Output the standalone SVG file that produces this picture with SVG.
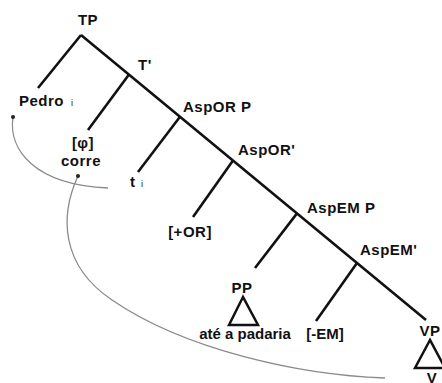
<svg xmlns="http://www.w3.org/2000/svg" width="442" height="383" viewBox="0 0 442 383">
<style>
.lbl{font-family:"Liberation Sans",Arial,sans-serif;font-weight:bold;font-size:15px;letter-spacing:0.5px;fill:#111}
.sub{font-family:"Liberation Sans",Arial,sans-serif;font-size:9px;fill:#111}
.br{stroke:#111;stroke-width:2.6;fill:none;stroke-linecap:butt}
.tri{stroke:#111;stroke-width:2.5;fill:none;stroke-linejoin:miter}
.mv{stroke:#8a8a8a;stroke-width:1.3;fill:none}
.dot{fill:#222}
</style>
<rect width="442" height="383" fill="#fff"/>
<g id="connectors">
<line class="br" x1="81" y1="35" x2="426" y2="320"/>
<line class="br" x1="81" y1="35" x2="38" y2="88"/>
<line class="br" x1="129" y1="74.6" x2="88" y2="130"/>
<line class="br" x1="180" y1="116.8" x2="138" y2="172"/>
<line class="br" x1="233" y1="160.6" x2="193" y2="217"/>
<line class="br" x1="297" y1="213.4" x2="255" y2="268"/>
<line class="br" x1="357" y1="263" x2="316" y2="321"/>
<path class="mv" d="M13,117 C8,150 35,185 108,188"/>
<path class="mv" d="M78,176 C60,215 60,265 112,300 C185,350 300,375 385,378"/>
<circle class="dot" cx="13" cy="117" r="2"/>
<circle class="dot" cx="78" cy="176" r="2"/>
</g>
<g id="TP"><text class="lbl" x="88" y="25" text-anchor="middle">TP</text></g>
<g id="Pedro"><text class="lbl" x="19" y="106">Pedro</text><text class="sub" x="71" y="106">i</text></g>
<g id="Tbar"><text class="lbl" x="138" y="70">T'</text></g>
<g id="corre"><text class="lbl" x="83" y="148" text-anchor="middle">[φ]</text><text class="lbl" x="81" y="166" text-anchor="middle">corre</text></g>
<g id="AspORP"><text class="lbl" x="183" y="112">AspOR P</text></g>
<g id="ti"><text class="lbl" x="130" y="187">t</text><text class="sub" x="141" y="187">i</text></g>
<g id="AspORbar"><text class="lbl" x="238" y="155">AspOR'</text></g>
<g id="plusOR"><text class="lbl" x="190" y="237" text-anchor="middle">[+OR]</text></g>
<g id="AspEMP"><text class="lbl" x="307" y="213">AspEM P</text></g>
<g id="AspEMbar"><text class="lbl" x="360" y="255">AspEM'</text></g>
<g id="PP"><text class="lbl" x="242" y="293" text-anchor="middle">PP</text><polygon class="tri" points="243,297 229,325 258,325"/><text class="lbl" x="245" y="339" text-anchor="middle" style="letter-spacing:0">até a padaria</text></g>
<g id="minusEM"><text class="lbl" x="325" y="339" text-anchor="middle" style="letter-spacing:0">[-EM]</text></g>
<g id="VP"><text class="lbl" x="430" y="336" text-anchor="middle">VP</text><polygon class="tri" points="430,340 415,368 445,368"/><text class="lbl" x="432" y="383" text-anchor="middle">V</text></g>
</svg>
